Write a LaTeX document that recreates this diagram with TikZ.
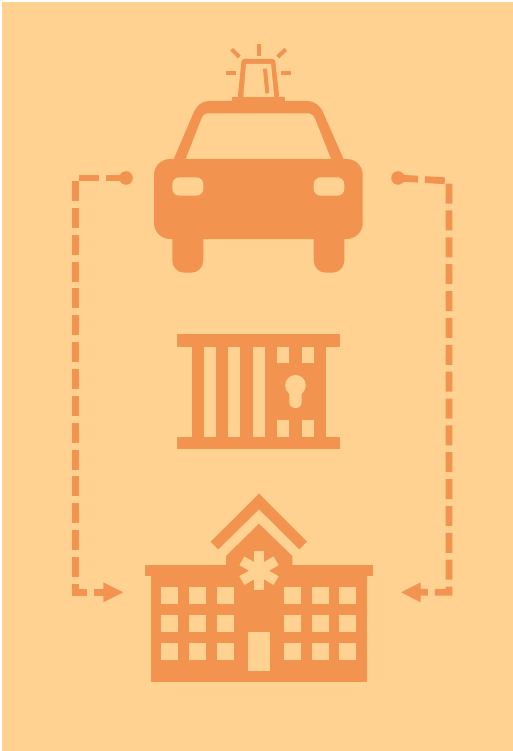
\documentclass[tikz,border=0pt]{standalone}
\definecolor{bgc}{HTML}{FFD291}
\definecolor{org}{HTML}{F29450}
\tikzset{
  icon/.style={fill=org,draw=none},
  hole/.style={fill=bgc,draw=none},
  ray/.style={draw=org,line width=4pt},
  link/.style={draw=org,line width=6.8pt,dash pattern=on 20pt off 6.86pt,miter limit=10},
  endpoint/.style={circle,fill=org,draw=none,minimum size=13.6pt,inner sep=0pt},
  tip/.style={fill=org,draw=none}
}
\begin{document}
\begin{tikzpicture}[x=1pt,y=-1pt]
\useasboundingbox (0,0) rectangle (513,751);
\fill[white] (0,0) rectangle (513,751);
\fill[bgc] (2,2) rectangle (513,751);
% car: roof
\fill[icon] (173.3,160) -- (193.3,113.3) .. controls (197,105) and (202,101) .. (209,101) -- (307,101) .. controls (314,101) and (320,105) .. (323.5,113.3) -- (344,160) -- cycle;
\fill[hole] (185.7,159) -- (201,120) .. controls (202.5,115.5) and (204.5,113.3) .. (207,113.3) -- (309,113.3) .. controls (311.5,113.3) and (313.5,115.5) .. (315.5,120) -- (331,159) -- cycle;
% car: body and wheels
\fill[icon,rounded corners=16pt] (154,159) rectangle (362.7,239);
\fill[icon,rounded corners=12pt] (172.3,225) rectangle (203.3,272.7);
\fill[icon,rounded corners=12pt] (313.7,225) rectangle (344.3,272.7);
\fill[hole,rounded corners=7pt] (172.3,177.3) rectangle (203.3,195.7);
\fill[hole,rounded corners=7pt] (313.7,177.3) rectangle (344.3,195.7);
% siren
\fill[icon] (232.3,97) rectangle (285.3,102);
\fill[icon,rounded corners=2.5pt] (237.7,98) -- (241.7,59) -- (275,59) -- (279.3,98) -- cycle;
\fill[hole,rounded corners=0.5pt] (243.3,97) -- (246,64) -- (271,64) -- (274.3,97) -- cycle;
\draw[ray] (265,68.7) -- (267.3,93.3);
\draw[ray] (258.7,44) -- (258.7,56);
\draw[ray] (231.7,49.3) -- (239.3,57);
\draw[ray] (285.7,49.3) -- (277.7,57);
\draw[ray] (226,72.7) -- (236,72.7);
\draw[ray] (281,72.7) -- (291,72.7);
% jail
\fill[icon] (177.3,334.3) rectangle (340.3,346.7);
\fill[icon] (177.3,436.7) rectangle (340.3,449);
\fill[icon] (191.7,346) rectangle (326,437);
\fill[hole] (204,346.7) rectangle (216,436.7);
\fill[hole] (228.3,346.7) rectangle (240.3,436.7);
\fill[hole] (252.7,346.7) rectangle (265,436.7);
\fill[hole] (277.3,346.7) rectangle (289.3,363);
\fill[hole] (301.7,346.7) rectangle (314,363);
\fill[hole] (277.3,420) rectangle (289.3,436.7);
\fill[hole] (301.7,420) rectangle (314,436.7);
\fill[hole] (295.5,385.3) circle[radius=10.3];
\fill[hole,rounded corners=6pt] (289.3,385) rectangle (301.7,408);
% hospital
\fill[icon] (210.7,541.7) -- (259,493.7) -- (307,541.7) -- (299.3,549.3) -- (259,509.3) -- (218.3,549.3) -- cycle;
\fill[icon] (259,523.7) -- (292.3,556) -- (292.3,566) -- (226,566) -- (226,556) -- cycle;
\fill[icon] (145,565) rectangle (373,576.3);
\fill[icon] (150.7,576) rectangle (367.3,682.3);
\foreach \cx in {161.3,189.3,217,284,311.7,339.3}
  \foreach \cy in {587.3,615,643}
    \fill[hole] (\cx,\cy) rectangle ++(17,17);
\fill[hole] (247.7,632) rectangle (270,671);
\foreach \ang in {90,30,-30}
  \fill[hole,shift={(259,570.7)},rotate=\ang] (-19.7,-5) rectangle (19.7,5);
% connectors
\coordinate (startL) at (126,178);
\coordinate (cornerLtop) at (75.3,178);
\coordinate (cornerLbot) at (75.3,592.3);
\coordinate (endL) at (104,592.3);
\coordinate (tipL) at (123.3,592.3);
\coordinate (startR) at (398,178);
\coordinate (cornerRtop) at (449,181);
\coordinate (cornerRbot) at (449,592.3);
\coordinate (endR) at (420,592.3);
\coordinate (tipR) at (401,592.3);
\node[endpoint] (dotL) at (startL) {};
\node[endpoint] (dotR) at (startR) {};
\draw[link] (startL) -- (cornerLtop) -- (cornerLbot) -- (endL);
\draw[link] (startR) -- (cornerRtop) -- (cornerRbot) -- (endR);
\fill[tip] (tipL) -- (103.3,582.3) -- (103.3,602.3) -- cycle;
\fill[tip] (tipR) -- (420.7,582.3) -- (420.7,602.3) -- cycle;
\end{tikzpicture}
\end{document}
